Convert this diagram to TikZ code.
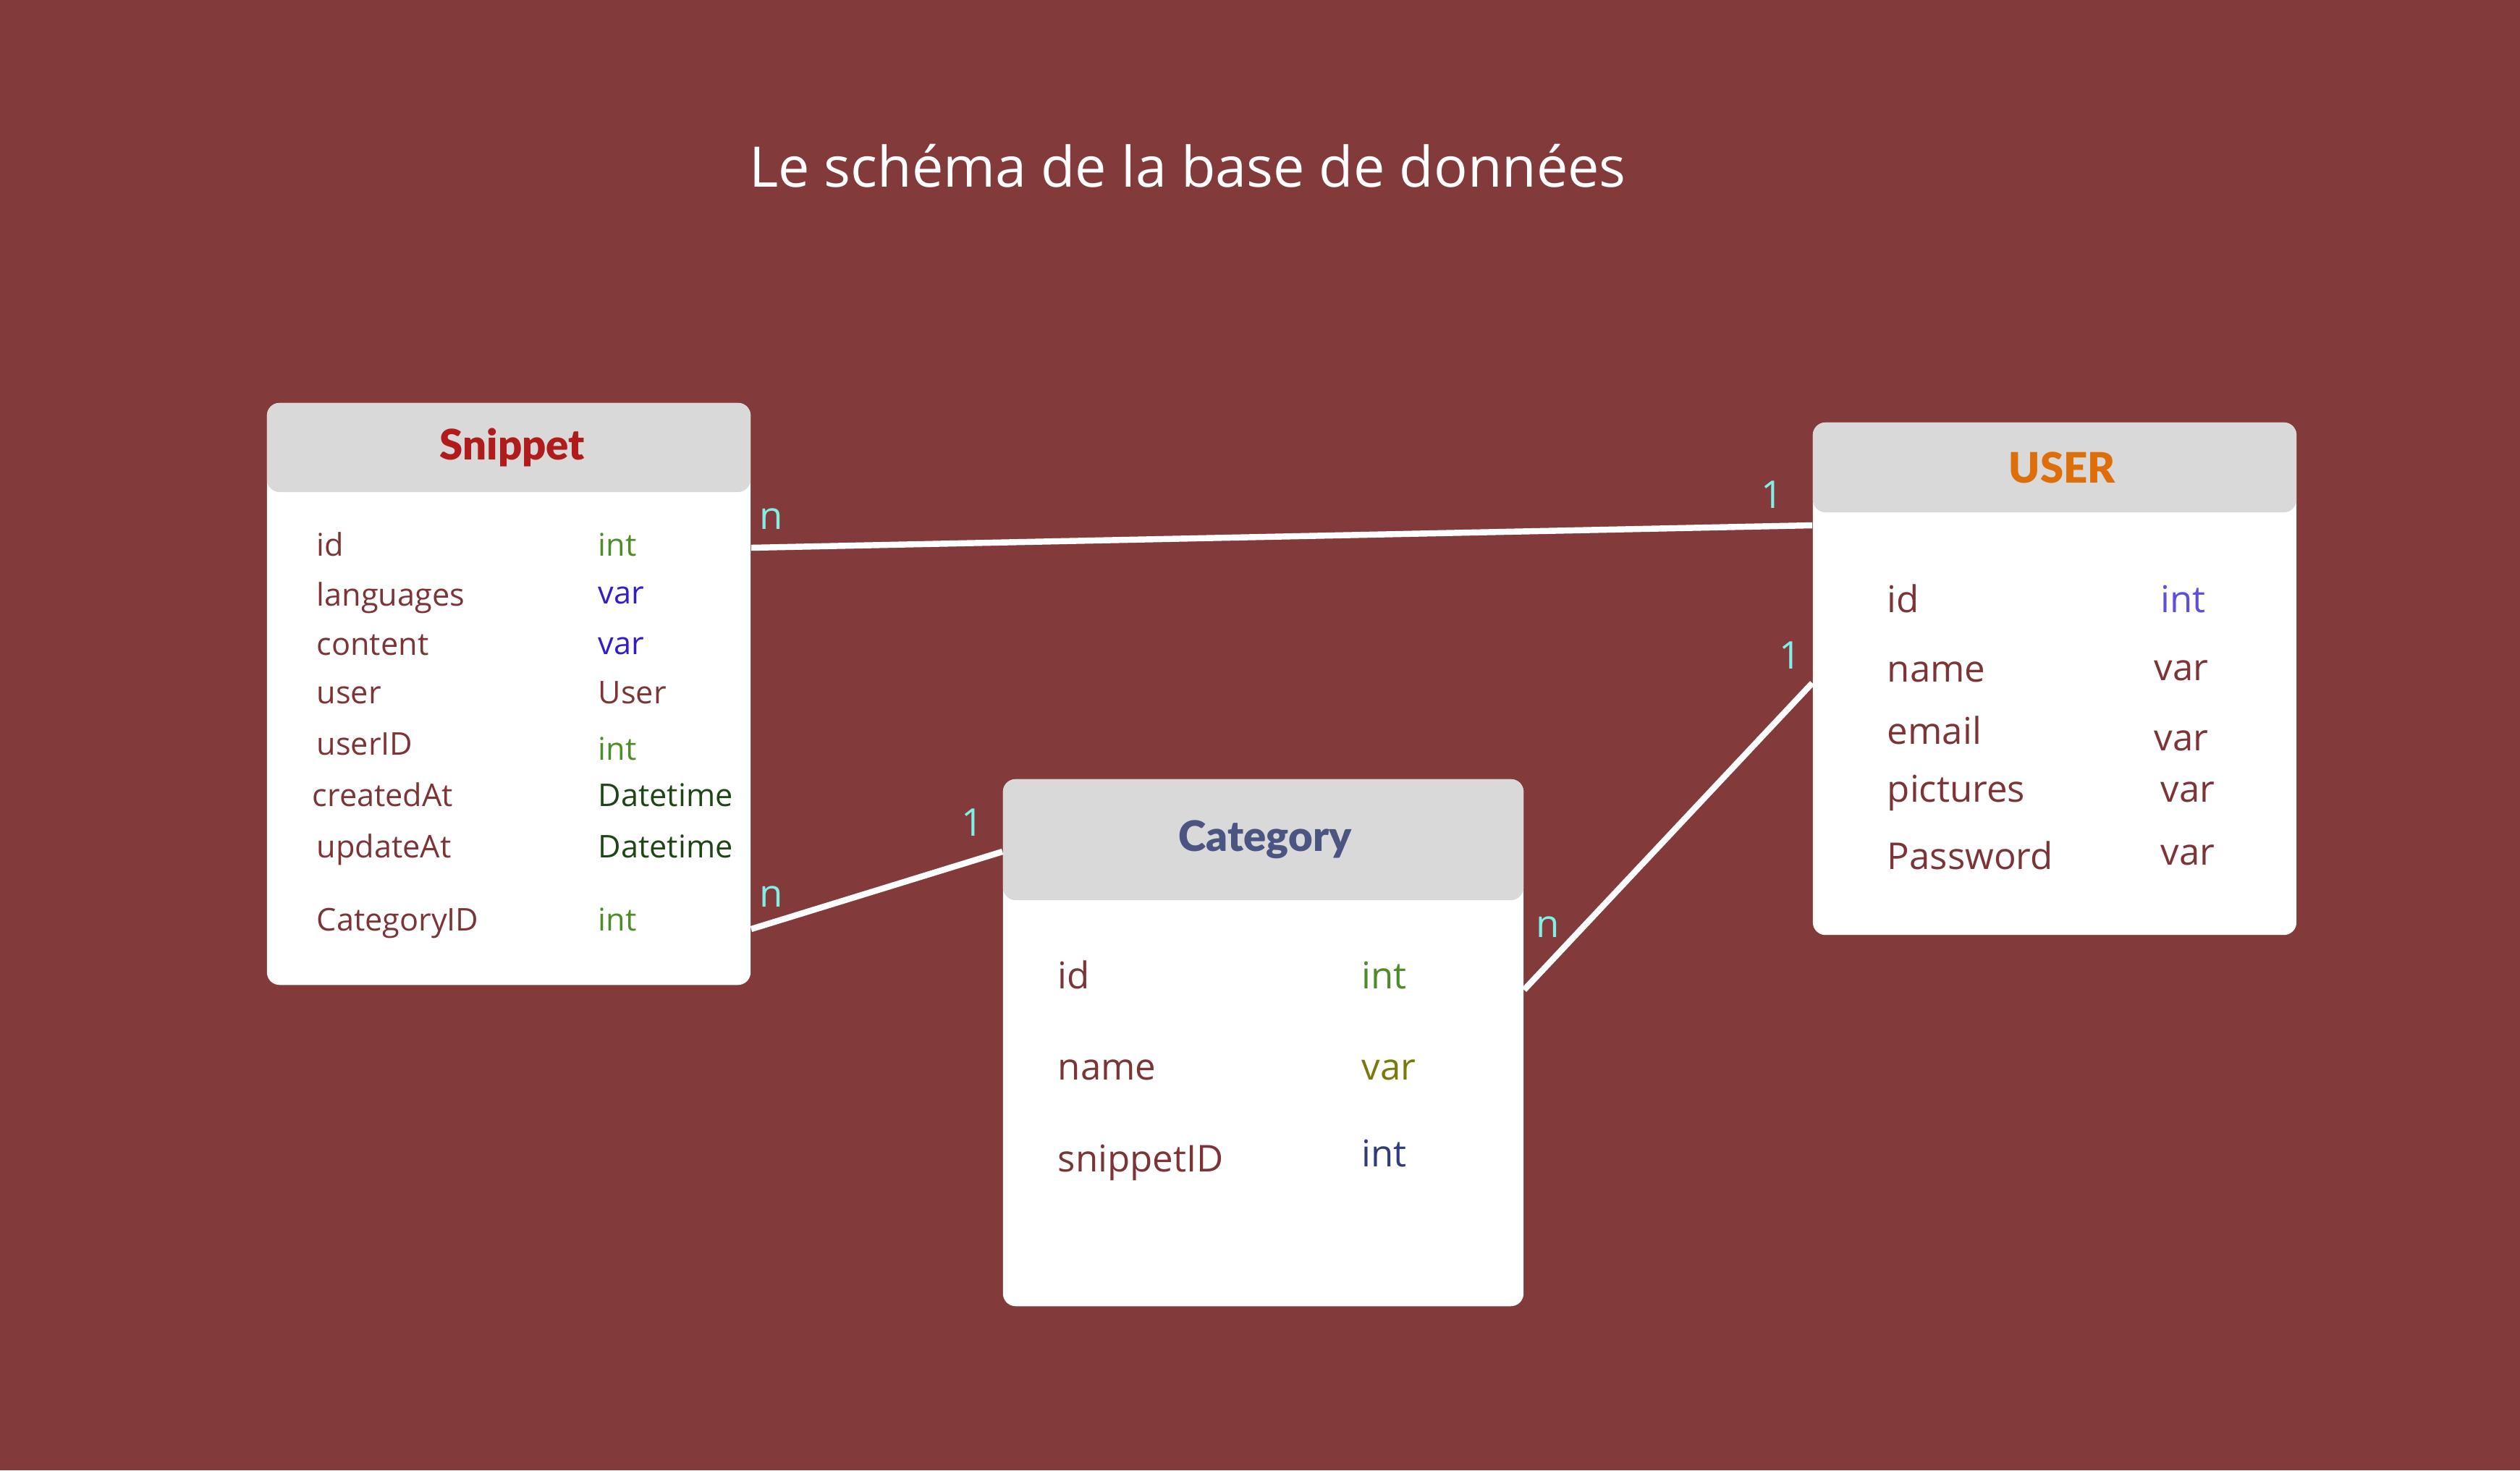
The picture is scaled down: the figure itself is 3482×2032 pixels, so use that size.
\documentclass[tikz,border=0pt]{standalone}
\usepackage{fontspec}
\setmainfont{Open Sans}
\newfontfamily\heavy{Lato Black}
\usetikzlibrary{calc}
\definecolor{bg}{RGB}{131,58,59}
\definecolor{hdrgray}{RGB}{217,217,217}
\definecolor{fname}{RGB}{125,52,54}
\definecolor{tint}{RGB}{77,140,40}
\definecolor{tvar}{RGB}{50,30,200}
\definecolor{tdate}{RGB}{30,70,20}
\definecolor{uint}{RGB}{90,80,220}
\definecolor{cvar}{RGB}{120,122,10}
\definecolor{cint}{RGB}{50,60,120}
\definecolor{snipc}{RGB}{176,28,28}
\definecolor{userc}{RGB}{221,110,10}
\definecolor{catc}{RGB}{75,85,130}
\definecolor{card}{RGB}{130,238,228}
\begin{document}
\begin{tikzpicture}[x=0.01cm,y=-0.01cm,
  tbl/.style={fill=white, draw=none, rounded corners=5pt, inner sep=0pt},
  hdr/.style={fill=hdrgray, draw=none, rounded corners=5pt, inner sep=0pt},
  htext/.style={inner sep=0pt, font=\heavy\fontsize{16.5}{18}\selectfont},
  fs/.style={anchor=base west, inner sep=0pt, text=fname, font=\fontsize{12.3}{14}\selectfont},
  fl/.style={anchor=base west, inner sep=0pt, text=fname, font=\fontsize{14.5}{17}\selectfont},
  conn/.style={white, line width=2.4pt},
  cardl/.style={inner sep=0pt, text=card, font=\fontsize{15}{18}\selectfont}]
\fill[bg] (0,0) rectangle (3482,2032);
\useasboundingbox (0,0) rectangle (3482,2032);

\node[inner sep=0pt, text=white, font=\fontsize{22}{26}\selectfont] (title) at (1641,229) {Le schéma de la base de données};

% Snippet table
\node[tbl, minimum width=6.68cm, minimum height=8.04cm] (snip) at (703,959) {};
\node[hdr, minimum width=6.68cm, minimum height=1.23cm] (snipH) at (703,618.5) {};
\node[htext, text=snipc] (snipT) at (708,618.5) {Snippet};
\node[fs] (s1) at (437,768) {id};
\node[fs] (s2) at (437,837) {languages};
\node[fs] (s3) at (437,905) {content};
\node[fs] (s4) at (437,972) {user};
\node[fs] (s5) at (437,1043) {userID};
\node[fs] (s6) at (431,1114) {createdAt};
\node[fs] (s7) at (437,1185) {updateAt};
\node[fs] (s8) at (437,1286) {CategoryID};
\node[fs, text=tint] (t1) at (826,768) {int};
\node[fs, text=tvar] (t2) at (826,834) {var};
\node[fs, text=tvar] (t3) at (826,904) {var};
\node[fs] (t4) at (826,972) {User};
\node[fs, text=tint] (t5) at (826,1050) {int};
\node[fs, text=tdate] (t6) at (826,1114) {Datetime};
\node[fs, text=tdate] (t7) at (826,1185) {Datetime};
\node[fs, text=tint] (t8) at (826,1286) {int};

% USER table
\node[tbl, minimum width=6.68cm, minimum height=7.08cm] (user) at (2839,938) {};
\node[hdr, minimum width=6.68cm, minimum height=1.24cm] (userH) at (2839,646) {};
\node[htext, text=userc] (userT) at (2849,646) {USER};
\node[fl] (u1) at (2607,846) {id};
\node[fl] (u2) at (2607,942) {name};
\node[fl] (u3) at (2607,1028) {email};
\node[fl] (u4) at (2607,1108) {pictures};
\node[fl] (u5) at (2607,1201) {Password};
\node[fl, text=uint] (ut1) at (2985,846) {int};
\node[fl] (ut2) at (2976,940) {var};
\node[fl] (ut3) at (2976,1037) {var};
\node[fl] (ut4) at (2985,1108) {var};
\node[fl] (ut5) at (2985,1195) {var};

% Category table
\node[tbl, minimum width=7.19cm, minimum height=7.28cm] (cat) at (1745.5,1441) {};
\node[hdr, minimum width=7.19cm, minimum height=1.67cm] (catH) at (1745.5,1160.5) {};
\node[htext, text=catc] (catT) at (1748,1160.5) {Category};
\node[fl] (c1) at (1461,1366) {id};
\node[fl] (c2) at (1461,1492) {name};
\node[fl] (c3) at (1461,1619) {snippetID};
\node[fl, text=tint] (ct1) at (1881,1366) {int};
\node[fl, text=cvar] (ct2) at (1881,1492) {var};
\node[fl, text=cint] (ct3) at (1881,1612) {int};

% connectors
\draw[conn] (snip.east |- 0,757) -- (user.west |- 0,726);
\draw[conn] (snip.east |- 0,1284) -- (cat.west |- 0,1177);
\draw[conn] (cat.east |- 0,1368) -- (user.west |- 0,944);

% cardinalities
\node[cardl] (n1) at (1066,717) {n};
\node[cardl] (o1) at (2449,684) {1};
\node[cardl] (n2) at (1066,1239) {n};
\node[cardl] (o2) at (1344,1137) {1};
\node[cardl] (n3) at (2139,1281) {n};
\node[cardl] (o3) at (2474,906) {1};
\end{tikzpicture}
\end{document}
